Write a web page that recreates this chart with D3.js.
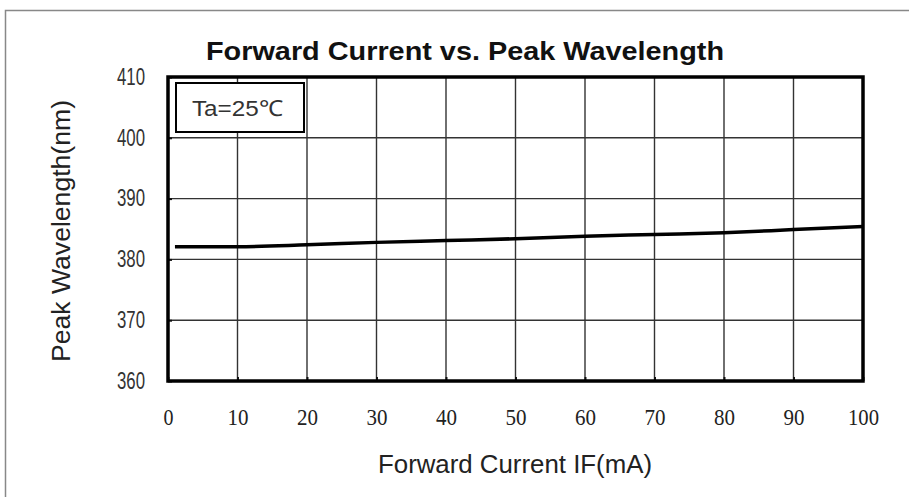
<!DOCTYPE html>
<html>
<head>
<meta charset="utf-8">
<script src="https://cdn.jsdelivr.net/npm/d3@7"></script>
<style>
  body { margin: 0; background: #fff; }
  svg { display: block; }
</style>
</head>
<body>
<svg id="chart"></svg>
<script>
// values
const currents = [1, 10, 20, 30, 40, 50, 60, 70, 80, 90, 100];
const wavelengths = [382.1, 382.1, 382.4, 382.8, 383.1, 383.4, 383.8, 384.1, 384.4, 384.9, 385.4];
const xTicks = [0, 10, 20, 30, 40, 50, 60, 70, 80, 90, 100];
const yTicks = [360, 370, 380, 390, 400, 410];

const width = 909, height = 497;
const margin = { top: 77, right: 46, bottom: 116, left: 168 };
const innerW = width - margin.left - margin.right;
const innerH = height - margin.top - margin.bottom;

const svg = d3.select("#chart").attr("width", width).attr("height", height);

// outer picture frame
svg.append("rect")
    .attr("x", 5.5).attr("y", 10.5)
    .attr("width", 940).attr("height", 520)
    .attr("fill", "none")
    .attr("stroke", "#888")
    .attr("stroke-width", 1.5);

const chart = svg.append("g")
    .attr("transform", `translate(${margin.left},${margin.top})`);

const xScale = d3.scaleLinear().domain([0, 100]).range([0, innerW]);
const yScale = d3.scaleLinear().domain([360, 410]).range([innerH, 0]);

// grid
chart.append("g")
    .selectAll("line")
    .data(xTicks.slice(1, -1))
    .join("line")
    .attr("x1", d => xScale(d)).attr("x2", d => xScale(d))
    .attr("y1", 0).attr("y2", innerH)
    .attr("stroke", "#333").attr("stroke-width", 1.4);

chart.append("g")
    .selectAll("line")
    .data(yTicks.slice(1, -1))
    .join("line")
    .attr("y1", d => yScale(d)).attr("y2", d => yScale(d))
    .attr("x1", 0).attr("x2", innerW)
    .attr("stroke", "#333").attr("stroke-width", 1.4);

// axes with short inward ticks
const xAxis = d3.axisBottom(xScale).tickValues(xTicks).tickSize(-4).tickPadding(28);
const yAxis = d3.axisLeft(yScale).tickValues(yTicks).tickSize(-4).tickPadding(23);

const xAxisG = chart.append("g")
    .attr("transform", `translate(0,${innerH})`)
    .call(xAxis);
xAxisG.select(".domain").remove();
xAxisG.selectAll("line").attr("stroke", "#111").attr("stroke-width", 2);
xAxisG.selectAll("text")
    .attr("font-family", "'Liberation Serif', serif")
    .attr("font-size", 23)
    .attr("fill", "#222")
    .attr("textLength", d => d === 100 ? 31 : (d === 0 ? 10 : 21))
    .attr("lengthAdjust", "spacingAndGlyphs");

const yAxisG = chart.append("g").call(yAxis);
yAxisG.select(".domain").remove();
yAxisG.selectAll("line").attr("stroke", "#111").attr("stroke-width", 2);
yAxisG.selectAll("text")
    .attr("font-family", "'Liberation Sans', Arial, sans-serif")
    .attr("font-size", 23)
    .attr("fill", "#333")
    .attr("textLength", 28)
    .attr("lengthAdjust", "spacingAndGlyphs");

// curve
const line = d3.line()
    .x((d, i) => xScale(currents[i]))
    .y(d => yScale(d))
    .curve(d3.curveMonotoneX);

chart.append("path")
    .datum(wavelengths)
    .attr("d", line)
    .attr("fill", "none")
    .attr("stroke", "#000")
    .attr("stroke-width", 3.5);

// plot frame
chart.append("rect")
    .attr("x", 0).attr("y", 0)
    .attr("width", innerW).attr("height", innerH)
    .attr("fill", "none")
    .attr("stroke", "#000")
    .attr("stroke-width", 3.5);

// legend box
const legend = chart.append("g").attr("transform", "translate(8,6)");
legend.append("rect")
    .attr("width", 128).attr("height", 49)
    .attr("fill", "#fff")
    .attr("stroke", "#000")
    .attr("stroke-width", 2);
legend.append("text")
    .attr("x", 16).attr("y", 33)
    .attr("font-family", "'Liberation Sans', Arial, sans-serif")
    .attr("font-size", 22)
    .attr("fill", "#333")
    .attr("textLength", 91)
    .attr("lengthAdjust", "spacingAndGlyphs")
    .text("Ta=25℃");

// title
svg.append("text")
    .attr("x", 465).attr("y", 60)
    .attr("text-anchor", "middle")
    .attr("font-family", "'Liberation Sans', Arial, sans-serif")
    .attr("font-weight", "bold")
    .attr("font-size", 25)
    .attr("textLength", 518)
    .attr("lengthAdjust", "spacingAndGlyphs")
    .attr("fill", "#111")
    .text("Forward Current vs. Peak Wavelength");

// axis titles
svg.append("text")
    .attr("x", 515).attr("y", 473)
    .attr("text-anchor", "middle")
    .attr("font-family", "'Liberation Sans', Arial, sans-serif")
    .attr("font-size", 25)
    .attr("fill", "#222")
    .attr("textLength", 274)
    .attr("lengthAdjust", "spacingAndGlyphs")
    .text("Forward Current IF(mA)");

svg.append("text")
    .attr("transform", "translate(70,231) rotate(-90)")
    .attr("text-anchor", "middle")
    .attr("font-family", "'Liberation Sans', Arial, sans-serif")
    .attr("font-size", 25)
    .attr("fill", "#222")
    .attr("textLength", 262)
    .attr("lengthAdjust", "spacingAndGlyphs")
    .text("Peak Wavelength(nm)");
</script>
</body>
</html>
